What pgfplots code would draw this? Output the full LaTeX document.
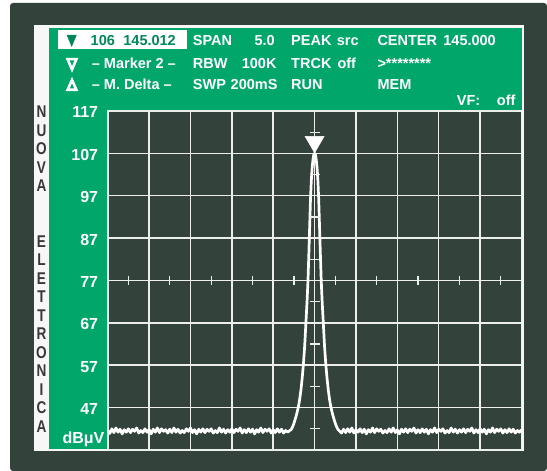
\documentclass[border=0pt]{standalone}
\usepackage{pgfplots}
\pgfplotsset{compat=1.18}
\usepackage{pgfplotstable}
\usepackage{fontspec}
\setmainfont{Liberation Sans}
\definecolor{darkbg}{RGB}{51,66,58}
\definecolor{panelgreen}{RGB}{0,166,106}
\definecolor{textgreen}{RGB}{0,136,88}
\definecolor{gridw}{RGB}{236,238,236}
\definecolor{lettergray}{RGB}{55,57,55}
\newcommand\hdr{\fontsize{14.5bp}{16bp}\selectfont\bfseries}
\newcommand\lbl{\fontsize{16bp}{17bp}\selectfont\bfseries}
\newcommand\brand{\fontsize{17bp}{17bp}\selectfont\bfseries}

\pgfplotstableread{
x y
142.500 41.6
142.525 40.9
142.550 42.0
142.575 41.1
142.600 42.2
142.625 41.2
142.650 41.9
142.675 40.8
142.700 41.8
142.725 41.2
142.750 42.0
142.775 41.1
142.800 41.9
142.825 41.4
142.850 42.2
142.875 41.0
142.900 41.6
142.925 41.1
142.950 42.0
142.975 41.2
143.000 41.8
143.025 40.8
143.050 41.9
143.075 41.2
143.100 42.2
143.125 41.1
143.150 42.0
143.175 41.4
143.200 41.8
143.225 41.0
143.250 41.9
143.275 41.1
143.300 42.2
143.325 41.2
143.350 41.9
143.375 41.0
143.400 41.6
143.425 41.1
143.450 42.0
143.475 41.4
143.500 42.2
143.525 41.1
143.550 41.8
143.575 40.8
143.600 41.9
143.625 41.2
143.650 42.0
143.675 41.1
143.700 41.9
143.725 41.4
143.750 42.0
143.775 41.0
143.800 41.6
143.825 41.1
143.850 42.2
143.875 41.2
143.900 41.9
143.925 41.0
143.950 41.8
143.975 41.2
144.000 42.0
144.025 41.1
144.050 41.9
144.075 41.4
144.100 42.2
144.125 41.0
144.150 41.8
144.175 41.1
144.200 42.0
144.225 41.2
144.250 41.9
144.275 40.8
144.300 41.8
144.325 41.2
144.350 42.2
144.375 41.1
144.400 41.9
144.425 41.4
144.450 42.0
144.475 41.0
144.500 41.8
144.525 41.1
144.550 42.0
144.575 41.2
144.600 41.9
144.625 41.0
144.650 41.6
144.675 41.2
144.700 41.6
144.715 41.8
144.730 42.3
144.745 43.0
144.760 43.9
144.775 44.9
144.790 46.0
144.805 47.3
144.820 49.0
144.835 51.2
144.850 54.0
144.865 57.3
144.880 61.5
144.895 67.0
144.910 72.5
144.920 77.0
144.930 83.0
144.940 89.5
144.950 96.0
144.960 100.5
144.970 103.5
144.980 105.5
144.990 106.7
145.000 107.0
145.010 106.7
145.020 105.5
145.030 103.5
145.040 100.5
145.050 96.0
145.060 89.5
145.070 83.0
145.080 77.0
145.090 72.5
145.105 67.0
145.120 61.5
145.135 57.3
145.150 54.0
145.165 51.2
145.180 49.0
145.195 47.3
145.210 46.0
145.225 44.9
145.240 43.9
145.255 43.0
145.270 42.3
145.285 41.8
145.300 41.5
145.325 41.0
145.350 41.9
145.375 41.1
145.400 42.0
145.425 41.2
145.450 42.2
145.475 41.0
145.500 41.8
145.525 41.2
145.550 42.0
145.575 41.1
145.600 41.9
145.625 40.8
145.650 41.8
145.675 41.2
145.700 42.2
145.725 41.1
145.750 42.0
145.775 41.4
145.800 41.9
145.825 41.0
145.850 41.6
145.875 41.1
145.900 42.0
145.925 41.2
145.950 42.2
145.975 41.1
146.000 41.8
146.025 40.8
146.050 41.9
146.075 41.2
146.100 42.0
146.125 41.1
146.150 41.9
146.175 41.4
146.200 42.2
146.225 41.0
146.250 41.8
146.275 41.1
146.300 42.0
146.325 41.2
146.350 41.9
146.375 40.8
146.400 41.8
146.425 41.2
146.450 42.2
146.475 41.1
146.500 41.9
146.525 41.4
146.550 42.0
146.575 41.0
146.600 41.6
146.625 41.1
146.650 42.2
146.675 41.2
146.700 41.9
146.725 41.0
146.750 41.8
146.775 41.2
146.800 42.0
146.825 41.1
146.850 41.9
146.875 41.4
146.900 42.2
146.925 41.0
146.950 41.8
146.975 41.1
147.000 42.0
147.025 41.2
147.050 41.9
147.075 40.8
147.100 41.8
147.125 41.2
147.150 42.2
147.175 41.1
147.200 41.9
147.225 41.4
147.250 42.0
147.275 41.0
147.300 41.8
147.325 41.1
147.350 42.0
147.375 41.2
147.400 41.9
147.425 41.0
147.450 41.6
147.475 41.2
147.500 41.8
}\trace

\begin{document}
\begin{tikzpicture}
\begin{scope}[x=1bp,y=1bp]
\path[use as bounding box, fill=white] (0,0) rectangle (547,471);
\fill[darkbg, rounded corners=3bp] (10,0) rectangle (547,468);
\fill[white!97!black] (34,20) rectangle (523.5,446);
\fill[panelgreen] (48.7,360) rectangle (521.5,443);
\fill[panelgreen] (48.7,22) rectangle (107.7,360);
% header row 1
\fill[white] (58.3,421.5) rectangle (186.7,441);
\fill[textgreen] (66.7,436) -- (76.7,436) -- (71.7,424) -- cycle;
\node[anchor=base west, inner sep=0pt, text=textgreen] at (90.5,425.3) {\hdr 106};
\node[anchor=base east, inner sep=0pt, text=textgreen] at (176,425.3) {\hdr 145.012};
\node[anchor=base west, inner sep=0pt, text=white] at (192.7,425.3) {\hdr SPAN};
\node[anchor=base east, inner sep=0pt, text=white] at (275,425.3) {\hdr 5.0};
\node[anchor=base west, inner sep=0pt, text=white] at (291,425.3) {\hdr PEAK};
\node[anchor=base west, inner sep=0pt, text=white] at (336.7,425.3) {\hdr src};
\node[anchor=base west, inner sep=0pt, text=white] at (377.3,425.3) {\hdr CENTER};
\node[anchor=base east, inner sep=0pt, text=white] at (496,425.3) {\hdr 145.000};
% row 2
\draw[white, line width=2.6bp] (67.6,411.8) -- (76.4,411.8) -- (72,401.5) -- cycle;
\node[anchor=base west, inner sep=0pt, text=white] at (91.7,402.7) {\hdr -- Marker 2 --};
\node[anchor=base west, inner sep=0pt, text=white] at (192.7,402.7) {\hdr RBW};
\node[anchor=base east, inner sep=0pt, text=white] at (276.7,402.7) {\hdr 100K};
\node[anchor=base west, inner sep=0pt, text=white] at (291,402.7) {\hdr TRCK};
\node[anchor=base west, inner sep=0pt, text=white] at (337.3,402.7) {\hdr off};
\node[anchor=base west, inner sep=0pt, text=white] at (377.3,402.7) {\hdr >********};
% row 3
\draw[white, line width=2.6bp] (67.6,381.2) -- (76.4,381.2) -- (72,391) -- cycle;
\node[anchor=base west, inner sep=0pt, text=white] at (91.7,381) {\hdr -- M. Delta --};
\node[anchor=base west, inner sep=0pt, text=white] at (192.7,381) {\hdr SWP};
\node[anchor=base east, inner sep=0pt, text=white] at (277.7,381) {\hdr 200mS};
\node[anchor=base west, inner sep=0pt, text=white] at (291,381) {\hdr RUN};
\node[anchor=base west, inner sep=0pt, text=white] at (377.3,381) {\hdr MEM};
% VF row
\node[anchor=base west, inner sep=0pt, text=white] at (456.7,365) {\hdr VF:};
\node[anchor=base west, inner sep=0pt, text=white] at (496.7,365) {\hdr off};
% vertical brand
\foreach \l [count=\i from 0] in {N,U,O,V,A,{},{},E,L,E,T,T,R,O,N,I,C,A}{
  \node[inner sep=0pt, text=lettergray, xscale=0.8] at (41.5,{359-\i*18.5}) {\brand \l};
}
\node[anchor=base east, inner sep=0pt, text=white] at (104.5,27) {\lbl dBμV};
\end{scope}

\begin{axis}[
  at={(107.7bp,21bp)}, anchor=south west,
  width=413.8bp, height=339bp, scale only axis,
  xmin=142.5, xmax=147.5, ymin=37, ymax=117,
  xtick={142.5,143,143.5,144,144.5,145,145.5,146,146.5,147,147.5},
  xticklabels={},
  ytick={37,47,57,67,77,87,97,107,117},
  yticklabels={,47,57,67,77,87,97,107,117},
  yticklabel style={font=\lbl, text=white, inner sep=0pt, xshift=-9.4bp, yshift=-1.5bp},
  major tick length=0pt,
  grid=major,
  major grid style={gridw, line width=1.5bp},
  axis line style={gridw, line width=1.7bp},
  axis background/.style={fill=darkbg},
]
\addplot[only marks, mark=-, mark size=5bp, mark options={gridw, line width=1.3bp}]
  coordinates {(145,112) (145,102) (145,92) (145,82) (145,72) (145,62) (145,52) (145,42)};
\addplot[only marks, mark=|, mark size=4.5bp, mark options={gridw, line width=1.3bp}]
  coordinates {(142.75,77) (143.25,77) (143.75,77) (144.25,77) (144.75,77) (145.25,77) (145.75,77) (146.25,77) (146.75,77) (147.25,77)};
\addplot[white, line width=2.7bp, line join=round] table[x=x, y=y] {\trace};
\addplot[only marks, mark=triangle*, mark size=11bp, mark options={rotate=180, fill=white, draw=white, line width=0.4bp}]
  coordinates {(145,109.7)};
\end{axis}
\end{tikzpicture}
\end{document}
